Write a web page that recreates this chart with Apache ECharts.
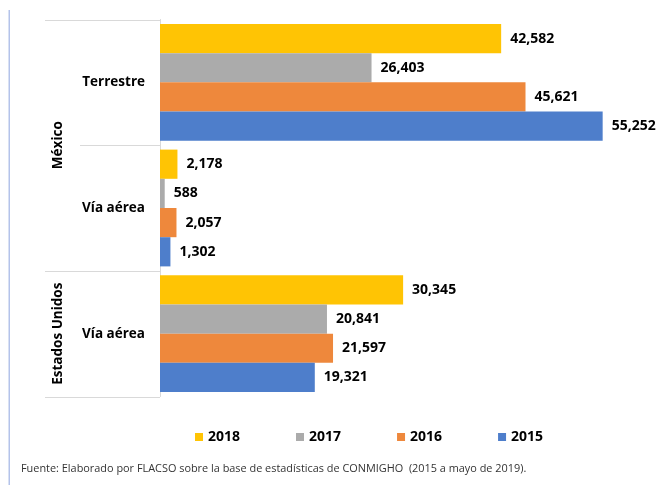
<!DOCTYPE html>
<html><head><meta charset="utf-8">
<script src="https://cdn.jsdelivr.net/npm/echarts@6/dist/echarts.min.js"></script>
<style>html,body{margin:0;padding:0;background:#fff}#c{width:660px;height:485px}</style>
</head><body><div id="c"></div>
<script>
// ---- data ----
const categories = ['Terrestre', 'Vía aérea', 'Vía aérea']; // top to bottom
const groups = ['México', 'Estados Unidos'];
const groupSpans = [2, 1];
const years = ['2018', '2017', '2016', '2015'];
const v2018 = [42582, 2178, 30345];
const v2017 = [26403, 588, 20841];
const v2016 = [45621, 2057, 21597];
const v2015 = [55252, 1302, 19321];
const colors = ['#FFC404', '#ABABAB', '#EE883C', '#4E7ECB'];
const footnote = 'Fuente: Elaborado por FLACSO sobre la base de estadísticas de CONMIGHO  (2015 a mayo de 2019).';

const FF = '"Open Sans", "Liberation Sans", sans-serif';
const seriesVals = [v2018, v2017, v2016, v2015];
const total = groupSpans.reduce((a, b) => a + b, 0);
const bounds = [0];
groupSpans.forEach(s => bounds.push(bounds[bounds.length - 1] + s));
const centers = groupSpans.map((s, i) => bounds[i] + s / 2);

const chart = echarts.init(document.getElementById('c'));
chart.setOption({
  animation: false,
  backgroundColor: '#fff',
  title: {
    text: footnote, left: 16, top: 458,
    textStyle: { fontSize: 10.9, fontWeight: 'normal', color: '#333', fontFamily: FF }
  },
  legend: {
    data: years, left: 195, top: 430, padding: 0,
    icon: 'rect', itemWidth: 8, itemHeight: 8, itemGap: 56,
    textStyle: { fontSize: 14, fontWeight: 'bold', color: '#000', fontFamily: FF }
  },
  grid: { left: 160, top: 19.5, right: 19.3, bottom: 88.5, containLabel: false },
  xAxis: {
    type: 'value', min: 0, max: 60000,
    axisLine: { show: false }, axisTick: { show: false }, axisLabel: { show: false }, splitLine: { show: false }
  },
  yAxis: [
    {
      type: 'category', inverse: true, position: 'left',
      data: categories.map((c, i) => String(i)),
      axisLine: { show: true, lineStyle: { color: '#d9d9d9', width: 1 } },
      axisTick: { show: false },
      axisLabel: {
        margin: 15, fontSize: 13.5, fontWeight: 'bold', color: '#000', fontFamily: FF,
        formatter: (v, i) => categories[i]
      },
      z: 1
    },
    {
      type: 'value', inverse: true, position: 'left', min: 0, max: total,
      axisLine: { show: false }, splitLine: { show: false }, axisTick: { show: false },
      axisLabel: {
        customValues: centers, rotate: 90, margin: 95,
        fontSize: 13.5, fontWeight: 'bold', color: '#000', fontFamily: FF,
        formatter: v => groups[centers.indexOf(v)]
      }
    }
  ],
  series: years.map((y, i) => ({
    name: y, type: 'bar', yAxisIndex: 0, data: seriesVals[i],
    barWidth: 29.2, barGap: '0%',
    itemStyle: { color: colors[i] },
    label: {
      show: true, position: 'right', distance: 9,
      formatter: p => p.value.toLocaleString('en-US'),
      fontSize: 14, fontWeight: 'bold', color: '#000', fontFamily: FF
    }
  }))
});

// separator lines between category cells, positioned through the axes
const x0 = chart.convertToPixel({ xAxisIndex: 0 }, 0);
const lines = [];
for (let b = 0; b <= categories.length; b++) {
  const y = Math.round(chart.convertToPixel({ yAxisIndex: 1 }, b)) + 0.5;
  const outer = bounds.indexOf(b) >= 0;
  lines.push({
    type: 'line', silent: true,
    shape: { x1: x0 - (outer ? 115 : 80), y1: y, x2: x0, y2: y },
    style: { stroke: '#d9d9d9', lineWidth: 1 }
  });
}
lines.push({ type: 'rect', silent: true, shape: { x: 8.5, y: 10, width: 1.5, height: 475 }, style: { fill: '#b4c3ea' } });
chart.setOption({ graphic: lines });
</script>
</body></html>
